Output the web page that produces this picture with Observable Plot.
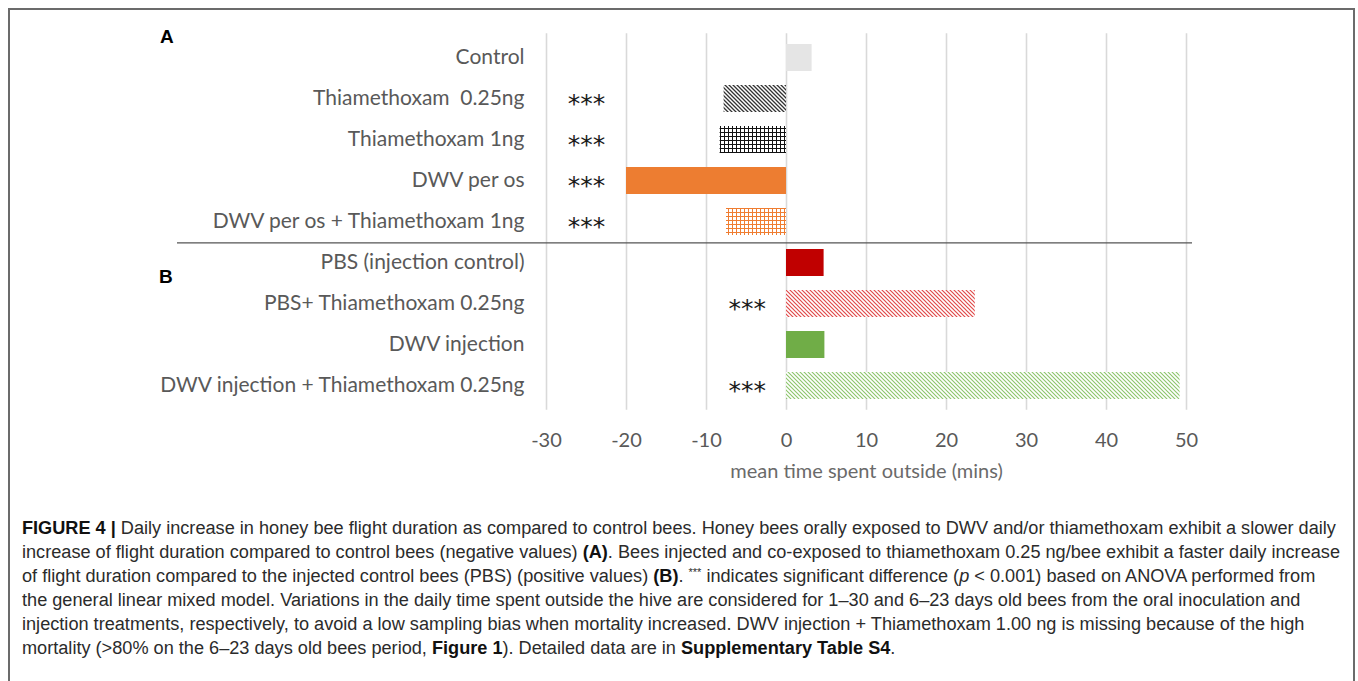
<!DOCTYPE html>
<html>
<head>
<meta charset="utf-8">
<script src="https://cdn.jsdelivr.net/npm/d3@7"></script>
<script src="https://cdn.jsdelivr.net/npm/@observablehq/plot@0.6"></script>
<style>
  html, body { margin: 0; padding: 0; background: #fff; width: 1358px; height: 681px; overflow: hidden; }
  #frame { position: absolute; left: 8px; top: 8px; width: 1347px; height: 700px; box-sizing: border-box;
           border-top: 2px solid #6b6b6b; border-left: 2px solid #6b6b6b; border-right: 2px solid #6b6b6b; }
  #chart { position: absolute; left: 0; top: 0; }
  .panel { position: absolute; font-family: "Liberation Sans", Arial, sans-serif; font-weight: bold; font-size: 19px; color: #000; line-height: 1; }
  #caption { position: absolute; left: 22px; top: 516px; font-family: "Liberation Sans", Arial, sans-serif;
             font-size: 18.15px; color: #2b2b2b; }
  #caption div { height: 24px; line-height: 24px; white-space: nowrap; }
  #caption b { font-weight: bold; color: #111; }
  #caption sup { font-size: 11px; line-height: 0; vertical-align: 6px; }
</style>
</head>
<body>
<div id="frame"></div>
<div id="chart"></div>
<div class="panel" style="left:160px; top:27px;">A</div>
<div class="panel" style="left:159px; top:267px;">B</div>
<div id="caption">
  <div><b>FIGURE 4 |</b> Daily increase in honey bee flight duration as compared to control bees. Honey bees orally exposed to DWV and/or thiamethoxam exhibit a slower daily</div>
  <div>increase of flight duration compared to control bees (negative values) <b>(A)</b>. Bees injected and co-exposed to thiamethoxam 0.25 ng/bee exhibit a faster daily increase</div>
  <div>of flight duration compared to the injected control bees (PBS) (positive values) <b>(B)</b>. <sup>***</sup> indicates significant difference (<i>p</i> &lt; 0.001) based on ANOVA performed from</div>
  <div>the general linear mixed model. Variations in the daily time spent outside the hive are considered for 1–30 and 6–23 days old bees from the oral inoculation and</div>
  <div>injection treatments, respectively, to avoid a low sampling bias when mortality increased. DWV injection + Thiamethoxam 1.00 ng is missing because of the high</div>
  <div>mortality (&gt;80% on the 6–23 days old bees period, <b>Figure 1</b>). Detailed data are in <b>Supplementary Table S4</b>.</div>
</div>
<script>
// ---- data ----
const categories = [
  "Control",
  "Thiamethoxam  0.25ng",
  "Thiamethoxam 1ng",
  "DWV per os",
  "DWV per os + Thiamethoxam 1ng",
  "PBS (injection control)",
  "PBS+ Thiamethoxam 0.25ng",
  "DWV injection",
  "DWV injection + Thiamethoxam 0.25ng"
];
const values = [3.2, -7.8, -8.3, -20.0, -7.5, 4.7, 23.6, 4.8, 49.2];
const panels = ["A", "A", "A", "A", "A", "B", "B", "B", "B"];
const significance = ["", "***", "***", "***", "***", "", "***", "", "***"];
const starX = [null, -25, -25, -25, -25, null, -4.9, null, -4.9];
const xTicks = [-30, -20, -10, 0, 10, 20, 30, 40, 50];
const axisLabel = "mean time spent outside (mins)";

// ---- styles (fills per bar) ----
const fills = [
  "#e5e5e5",
  "url(#diagBlack)",
  "url(#gridBlack)",
  "#ed7d31",
  "url(#gridOrange)",
  "#c00000",
  "url(#diagRed)",
  "#70ad47",
  "url(#diagGreen)"
];

const rows = categories.map((c, i) => ({
  label: c, value: values[i], panel: panels[i], stars: significance[i], starX: starX[i], fill: fills[i]
}));
const lastOfA = rows.filter(d => d.panel === "A").slice(-1)[0].label;

const padding = 0.33;
const step = 41.75;

const plot = Plot.plot({
  width: 1358,
  height: 490,
  marginLeft: 546,
  marginRight: 172,
  marginTop: 27.2,
  marginBottom: 73.3,
  style: { fontFamily: "Lato, 'Open Sans', sans-serif", background: "transparent", overflow: "visible" },
  x: { domain: [-30, 50], axis: null },
  y: { domain: categories, padding: padding, axis: null },
  color: { type: "identity" },
  marks: [
    Plot.ruleX(xTicks, { x: d => d, stroke: "#d9d9d9", strokeWidth: 1.6, insetTop: 6, insetBottom: 7 }),
    Plot.barX(rows, { x: "value", y: "label", fill: "fill" }),
    Plot.ruleY([lastOfA], { y: d => d, dy: step / 2, stroke: "#555", strokeWidth: 1.2, insetLeft: -369, insetRight: -6 }),
    Plot.text(rows.filter(d => d.stars), { x: "starX", y: "label", text: "stars", fontSize: 25, fontFamily: "DejaVu Sans", fill: "#1a1a1a", dy: 5, style: "letter-spacing:1px" }),
    Plot.axisY({ tickSize: 0, tickPadding: 22, fontSize: 21, fill: "#595959", label: null, dy: -1 }),
    Plot.axisX(xTicks, { tickSize: 0, tickPadding: 16, fontSize: 20, fill: "#595959", label: null, tickFormat: d => String(d) }),
    Plot.text([axisLabel], { x: 10, frameAnchor: "bottom", dy: 61, text: d => d, fontSize: 20, fill: "#6a6a6a" })
  ]
});

// pattern definitions
const svg = d3.select(plot.tagName.toLowerCase() === "svg" ? plot : plot.querySelector("svg"));
const defs = svg.insert("defs", ":first-child");
function diag(id, color, size, w) {
  const p = defs.append("pattern").attr("id", id).attr("patternUnits", "userSpaceOnUse")
    .attr("width", size).attr("height", size);
  p.append("rect").attr("width", size).attr("height", size).attr("fill", "#fff");
  p.append("path").attr("d", `M${-size},0 L${size},${2*size} M0,0 L${size},${size} M0,${-size} L${2*size},${size}`)
    .attr("stroke", color).attr("stroke-width", w);
}
function grid(id, color, size, w) {
  const p = defs.append("pattern").attr("id", id).attr("patternUnits", "userSpaceOnUse")
    .attr("width", size).attr("height", size);
  p.append("rect").attr("width", size).attr("height", size).attr("fill", "#fff");
  p.append("path").attr("d", `M0,0.5 H${size} M0.5,0 V${size}`)
    .attr("stroke", color).attr("stroke-width", w);
}
diag("diagBlack", "#333", 4, 1.3);
grid("gridBlack", "#111", 4, 1);
grid("gridOrange", "#ef7d31", 4, 1);
diag("diagRed", "#e04848", 4, 1.2);
diag("diagGreen", "#8cc56a", 4, 1.1);

document.getElementById("chart").appendChild(plot);
</script>
</body>
</html>
